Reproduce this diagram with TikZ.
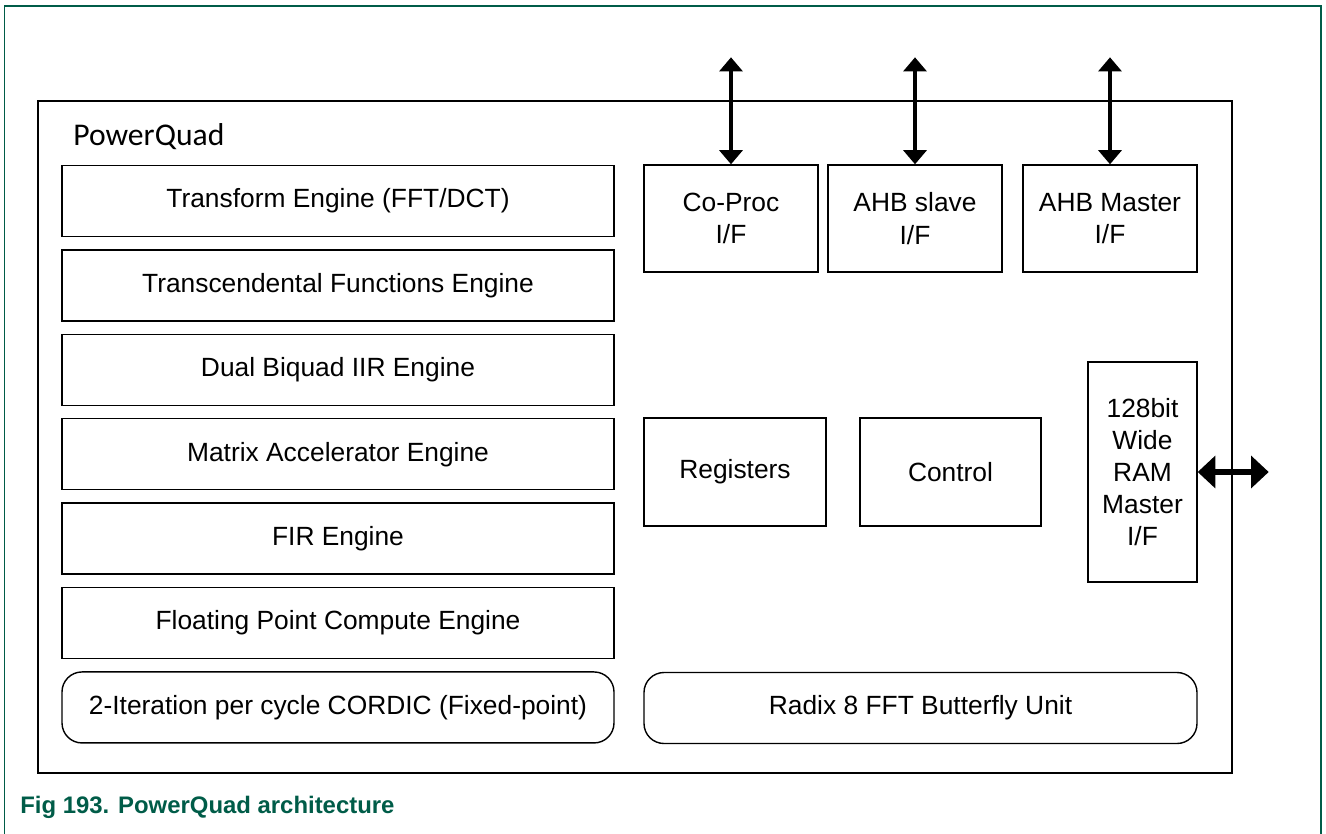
\documentclass[tikz,border=0pt]{standalone}
\usepackage{fontspec}
\setmainfont{Liberation Sans}
\newfontfamily\calibrifont{Carlito}
\usepackage{xcolor}
\usepackage{tikz}
\usetikzlibrary{shapes,arrows.meta,positioning}
\definecolor{nxpgreen}{RGB}{0,92,72}
\tikzset{
  engine/.style={
    rectangle,
    draw=black,
    line width=0.8pt,
    minimum width=11.04cm,
    minimum height=1.42cm,
    inner sep=0pt,
    align=center,
    font=\fontsize{15}{18.3}\selectfont
  },
  unit/.style={
    engine,
    minimum width=3.48cm,
    minimum height=2.14cm
  },
  roundunit/.style={
    engine,
    rounded corners=0.4cm
  },
  bus/.style={
    {Triangle[length=8pt,width=13pt]}-{Triangle[length=8pt,width=13pt]},
    line width=2.8pt
  },
  widebus/.style={
    {Triangle[length=10pt,width=18pt]}-{Triangle[length=10pt,width=18pt]},
    line width=3.4pt
  }
}
\begin{document}
\begin{tikzpicture}
\useasboundingbox (0,0) rectangle (26.52,-16.68);

% page frame and caption
\draw[nxpgreen, line width=0.85pt] (0.09,-16.68) |- (26.42,-0.12) -- (26.42,-16.68);
\node[anchor=west, inner sep=0pt, text=nxpgreen, font=\fontsize{13.6}{16}\selectfont\bfseries] (caption) at (0.40,-16.14) {Fig 193. PowerQuad architecture};

% PowerQuad block
\draw[line width=1.1pt] (0.76,-2.02) rectangle (24.64,-15.46);
\node[anchor=west, inner sep=0pt, font=\calibrifont\fontsize{18}{20}\selectfont] (title) at (1.46,-2.74) {PowerQuad};

% engines
\node[engine] (fft) at (6.76,-4.02) {Transform Engine (FFT/DCT)};
\node[engine, below=0.24cm of fft] (trans) {Transcendental Functions Engine};
\node[engine, below=0.24cm of trans] (biquad) {Dual Biquad IIR Engine};
\node[engine, below=0.24cm of biquad] (matrix) {Matrix Accelerator Engine};
\node[engine, below=0.24cm of matrix] (fir) {FIR Engine};
\node[engine, below=0.24cm of fir] (float) {Floating Point Compute Engine};
\node[roundunit, below=0.24cm of float] (cordic) {2-Iteration per cycle CORDIC (Fixed-point)};

% interfaces
\node[unit] (coproc) at (14.62,-4.37) {Co-Proc\\I/F};
\node[unit] (slave) at (18.30,-4.37) {AHB slave\\I/F};
\node[unit] (master) at (22.20,-4.37) {AHB Master\\I/F};

\node[unit, minimum width=3.64cm, minimum height=2.16cm] (regs) at (14.70,-9.44) {Registers};
\node[unit, minimum width=3.62cm, minimum height=2.16cm] (ctrl) at (19.01,-9.44) {Control};
\node[unit, minimum width=2.18cm, minimum height=4.40cm] (ram) at (22.85,-9.44) {128bit\\Wide\\RAM\\Master\\I/F};

\node[roundunit, minimum width=11.06cm] (radix) at (18.41,-14.16) {Radix 8 FFT Butterfly Unit};

% buses
\coordinate[above=2.14cm of coproc] (coprocbus);
\coordinate[above=2.14cm of slave] (slavebus);
\coordinate[above=2.14cm of master] (masterbus);
\coordinate[right=1.42cm of ram] (rambus);

\draw[bus] (coprocbus) -- (coproc);
\draw[bus] (slavebus) -- (slave);
\draw[bus] (masterbus) -- (master);
\draw[widebus] (ram) -- (rambus);

\end{tikzpicture}
\end{document}
